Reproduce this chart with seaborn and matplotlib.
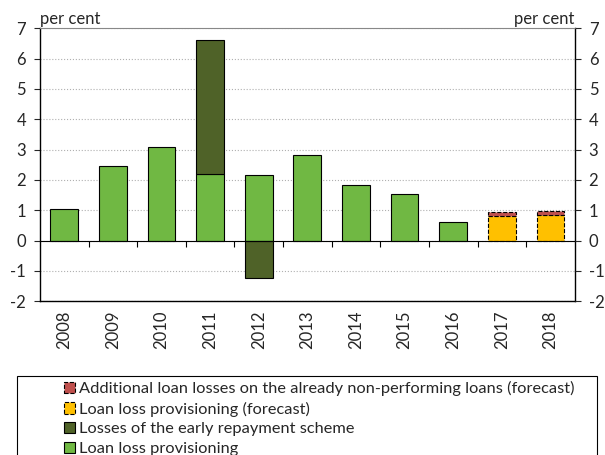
import numpy as np
import pandas as pd
import matplotlib
matplotlib.use("Agg")
import matplotlib.pyplot as plt
import matplotlib.patches as mpatches
import seaborn as sns

# data (per cent)
years = ["2008", "2009", "2010", "2011", "2012", "2013", "2014", "2015", "2016", "2017", "2018"]
provisioning = [1.05, 2.45, 3.1, 2.2, 2.15, 2.82, 1.83, 1.52, 0.6, np.nan, np.nan]
early_repayment = [np.nan, np.nan, np.nan, 4.4, -1.23, np.nan, np.nan, np.nan, np.nan, np.nan, np.nan]
provisioning_fc = [np.nan] * 9 + [0.8, 0.83]
additional_fc = [np.nan] * 9 + [0.14, 0.14]

labels = [
    "Additional loan losses on the already non-performing loans (forecast)",
    "Loan loss provisioning (forecast)",
    "Losses of the early repayment scheme",
    "Loan loss provisioning",
]
c_green = "#70B843"
c_dark = "#4F6228"
c_yellow = "#FFC000"
c_red = "#C0504D"

sns.set_style("white")
plt.rcParams["font.family"] = ["Lato", "DejaVu Sans"]
plt.rcParams["axes.unicode_minus"] = False

df = pd.DataFrame({
    "year": years,
    "prov": provisioning,
    "early": early_repayment,
    "prov_fc": provisioning_fc,
    "add_fc": additional_fc,
})
# stacking base for the early repayment part (above green when positive, from 0 when negative)
df["early_base"] = np.where(df["early"] > 0, df["prov"], 0)
df["add_base"] = df["prov_fc"]

fig = plt.figure(figsize=(6.05, 4.55), dpi=100)
ax = fig.add_axes([0.066, 0.338, 0.884, 0.600])

w = 0.57
sns.barplot(data=df, x="year", y="prov", order=years, color=c_green, width=w,
            edgecolor="black", linewidth=0.8, saturation=1, ax=ax)
sns.barplot(data=df, x="year", y="early", order=years, color=c_dark, width=w,
            bottom=df.dropna(subset=["early"])["early_base"].values,
            edgecolor="black", linewidth=0.8, saturation=1, ax=ax)
sns.barplot(data=df, x="year", y="prov_fc", order=years, color=c_yellow, width=w,
            edgecolor="black", linewidth=0.8, linestyle="--", saturation=1, ax=ax)
sns.barplot(data=df, x="year", y="add_fc", order=years, color=c_red, width=w,
            bottom=df.dropna(subset=["add_fc"])["add_base"].values,
            edgecolor="black", linewidth=0.8, linestyle="--", saturation=1, ax=ax)

ax.set_xlim(-0.5, len(years) - 0.5)
ax.set_ylim(-2, 7)
ax.set_yticks(range(-2, 8))
ax.yaxis.grid(True, color="#B0B0B0", linestyle=":", linewidth=0.8)
ax.set_axisbelow(True)
ax.axhline(0, color="black", linewidth=0.8, zorder=1)
ax.set_xlabel("")
ax.set_ylabel("")
ax.tick_params(axis="x", length=0, labelsize=12, labelrotation=90, pad=7)
ax.tick_params(axis="y", left=True, direction="out", length=4, labelsize=12, pad=6)
for s in ["left", "right", "bottom"]:
    ax.spines[s].set_color("black")
    ax.spines[s].set_linewidth(1)
ax.spines["top"].set_color("#888888")

# right-hand axis with the same scale
axr = ax.twinx()
axr.set_ylim(ax.get_ylim())
axr.set_yticks(range(-2, 8))
axr.tick_params(axis="y", right=True, direction="out", length=4, labelsize=12, pad=6)
for s in axr.spines.values():
    s.set_visible(False)

# category separator ticks on the zero line
axt = ax.twiny()
axt.set_xlim(ax.get_xlim())
axt.xaxis.set_ticks_position("bottom")
axt.spines["bottom"].set_position(("data", 0))
axt.set_xticks(np.arange(len(years) - 1) + 0.5)
axt.tick_params(axis="x", direction="out", length=4, labelbottom=False, labeltop=False, color="black")
for s in axt.spines.values():
    s.set_visible(False)

ax.text(0.0, 1.005, "per cent", transform=ax.transAxes, ha="left", va="bottom", fontsize=12)
ax.text(1.0, 1.005, "per cent", transform=ax.transAxes, ha="right", va="bottom", fontsize=12)

# legend
handles = [
    mpatches.Patch(facecolor=c_red, edgecolor="black", linestyle="--", linewidth=0.8),
    mpatches.Patch(facecolor=c_yellow, edgecolor="black", linestyle="--", linewidth=0.8),
    mpatches.Patch(facecolor=c_dark, edgecolor="black", linewidth=0.8),
    mpatches.Patch(facecolor=c_green, edgecolor="black", linewidth=0.8),
]
fig.legend(handles, labels, loc="upper left", bbox_to_anchor=(0.092, 0.18), frameon=False,
           fontsize=11.8, handlelength=0.7, handleheight=0.7, handletextpad=0.25,
           labelspacing=0.32, borderpad=0)
fig.patches.append(mpatches.Rectangle((0.028, -0.05), 0.959, 0.224, transform=fig.transFigure,
                                      fill=False, edgecolor="black", linewidth=0.8))

fig.savefig("out.png", dpi=100)
